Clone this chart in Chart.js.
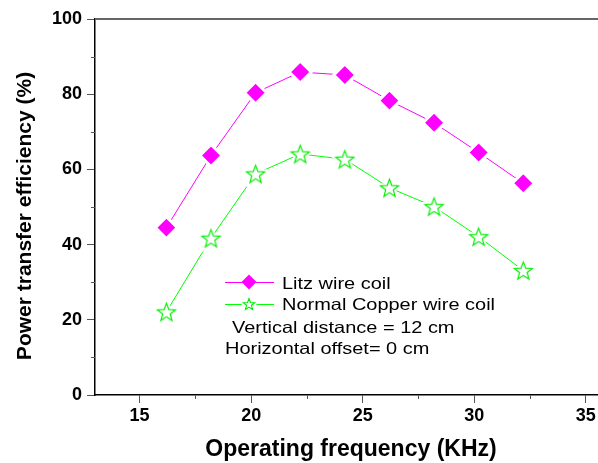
<!DOCTYPE html>
<html>
<head>
<meta charset="utf-8">
<script src="https://cdn.jsdelivr.net/npm/chart.js@4.4.0/dist/chart.umd.min.js"></script>
<style>
  html, body { margin: 0; padding: 0; background: #fff; overflow: hidden; }
  #wrap { width: 598px; height: 463px; }
</style>
</head>
<body>
<div id="wrap"><canvas id="myChart" width="598" height="463"></canvas></div>
<script>
"use strict";

// operating frequency (KHz) and efficiency (%)
const freq = [16.2, 18.2, 20.2, 22.2, 24.2, 26.2, 28.2, 30.2, 32.2];
const litz = [44.5, 63.7, 80.4, 85.9, 85.1, 78.3, 72.4, 64.5, 56.3];
const copper = [22.1, 41.7, 58.8, 64.1, 62.7, 55.1, 50.1, 42.1, 33.1];

const xTicks = [15, 20, 25, 30, 35];
const xMinor = [17.5, 22.5, 27.5, 32.5];
const yMinor = [10, 30, 50, 70, 90];

const seriesNames = ["Litz wire coil", "Normal Copper wire coil"];
const noteLines = ["Vertical distance = 12 cm", "Horizontal offset= 0 cm"];

const FONT = '"Liberation Sans", Arial, Helvetica, sans-serif';

// open five point star used as marker
function makeStar(r, lw){
    const c = document.createElement("canvas");
    const s = Math.ceil(2 * r + 8);
    c.width = s; c.height = s;
    const g = c.getContext("2d");
    g.translate(s / 2, s / 2 + r * 0.09);
    g.beginPath();
    for (let i = 0; i < 10; i++){
        const rr = (i % 2) ? r * 0.42 : r;
        const a = -Math.PI / 2 + i * Math.PI / 5;
        g.lineTo(rr * Math.cos(a), rr * Math.sin(a));
    }
    g.closePath();
    g.lineJoin = "miter";
    g.strokeStyle = "#fff"; g.lineWidth = 5; g.stroke();
    g.fillStyle = "#fff"; g.fill();
    g.strokeStyle = "#00ee00"; g.lineWidth = lw; g.stroke();
    return c;
}

const starBig = makeStar(9.5, 1.2);
const starSmall = makeStar(6, 1.1);

const toPts = (ys) => freq.map((f, i) => ({x: f, y: ys[i]}));

const decor = {
    id: "decor",
    afterDraw(chart){
        const ctx = chart.ctx;
        const a = chart.chartArea;
        const xs = chart.scales.x, ys = chart.scales.y;
        ctx.save();

        // top frame line
        ctx.strokeStyle = "#666";
        ctx.lineWidth = 2;
        ctx.beginPath();
        ctx.moveTo(a.left, a.top); ctx.lineTo(a.right, a.top);
        ctx.stroke();

        // minor ticks
        ctx.strokeStyle = "#555";
        ctx.lineWidth = 1;
        ctx.beginPath();
        xMinor.forEach(v => {
            const px = Math.round(xs.getPixelForValue(v)) + 0.5;
            ctx.moveTo(px, a.bottom); ctx.lineTo(px, a.bottom + 4);
        });
        yMinor.forEach(v => {
            const py = Math.round(ys.getPixelForValue(v)) + 0.5;
            ctx.moveTo(a.left, py); ctx.lineTo(a.left - 4, py);
        });
        ctx.stroke();

        // axis titles
        ctx.fillStyle = "#000";
        ctx.font = "bold 23px " + FONT;
        ctx.textAlign = "center";
        ctx.textBaseline = "alphabetic";
        ctx.fillText("Operating frequency (KHz)", 351, 456);

        ctx.save();
        ctx.translate(31, 216);
        ctx.rotate(-Math.PI / 2);
        ctx.font = "bold 21px " + FONT;
        ctx.fillText("Power transfer efficiency (%)", 0, 0);
        ctx.restore();

        // legend
        const rows = [282, 304];
        chart.data.datasets.forEach((ds, i) => {
            const y = rows[i];
            ctx.strokeStyle = ds.borderColor;
            ctx.lineWidth = 1;
            ctx.beginPath();
            ctx.moveTo(225, y + 0.5); ctx.lineTo(274, y + 0.5);
            ctx.stroke();
            if (i === 0){
                ctx.fillStyle = ds.pointBackgroundColor;
                ctx.beginPath();
                ctx.moveTo(249, y - 7.5); ctx.lineTo(256.5, y);
                ctx.lineTo(249, y + 7.5); ctx.lineTo(241.5, y);
                ctx.closePath();
                ctx.fill();
            } else {
                ctx.drawImage(starSmall, 249 - starSmall.width / 2, y - starSmall.height / 2);
            }
        });

        ctx.fillStyle = "#000";
        ctx.font = "16.5px " + FONT;
        ctx.textAlign = "left";
        const texts = [
            [seriesNames[0], 282, 289],
            [seriesNames[1], 282, 310],
            [noteLines[0], 232, 333],
            [noteLines[1], 225, 354]
        ];
        texts.forEach(t => {
            ctx.save();
            ctx.translate(t[1], t[2]);
            ctx.scale(1.21, 1);
            ctx.fillText(t[0], 0, 0);
            ctx.restore();
        });

        ctx.restore();
    }
};

const tickFont = {family: FONT, size: 18, weight: "bold"};

new Chart(document.getElementById("myChart"), {
    type: "line",
    data: {
        datasets: [{
            label: seriesNames[0],
            data: toPts(litz),
            borderColor: "#ff00ff",
            borderWidth: 1,
            pointStyle: "rectRot",
            pointRadius: 11,
            pointBackgroundColor: "#ff00ff",
            pointBorderColor: "#ffffff",
            pointBorderWidth: 3,
            tension: 0
        }, {
            label: seriesNames[1],
            data: toPts(copper),
            borderColor: "#00ff00",
            borderWidth: 1,
            pointStyle: starBig,
            pointRadius: 10,
            tension: 0
        }]
    },
    options: {
        responsive: false,
        animation: false,
        devicePixelRatio: 1,
        layout: {autoPadding: false, padding: {top: 19, right: 0, left: 0, bottom: 0}},
        plugins: {legend: {display: false}, tooltip: {enabled: false}},
        scales: {
            x: {
                type: "linear",
                min: 13,
                max: 35.55,
                afterBuildTicks: (s) => { s.ticks = xTicks.map(v => ({value: v})); },
                afterFit: (s) => { s.height = 68; s.paddingLeft = 0; s.paddingRight = 0; },
                ticks: {font: tickFont, color: "#000", padding: 2, maxRotation: 0},
                grid: {drawOnChartArea: false, drawTicks: true, tickLength: 8, color: "#555"},
                border: {display: true, color: "#000", width: 1.5}
            },
            y: {
                min: 0,
                max: 100,
                afterFit: (s) => { s.width = 95; s.paddingTop = 0; s.paddingBottom = 0; },
                ticks: {stepSize: 20, font: tickFont, color: "#000", padding: 5},
                grid: {drawOnChartArea: false, drawTicks: true, tickLength: 8, color: "#555"},
                border: {display: true, color: "#000", width: 1.5}
            }
        }
    },
    plugins: [decor]
});
</script>
</body>
</html>
